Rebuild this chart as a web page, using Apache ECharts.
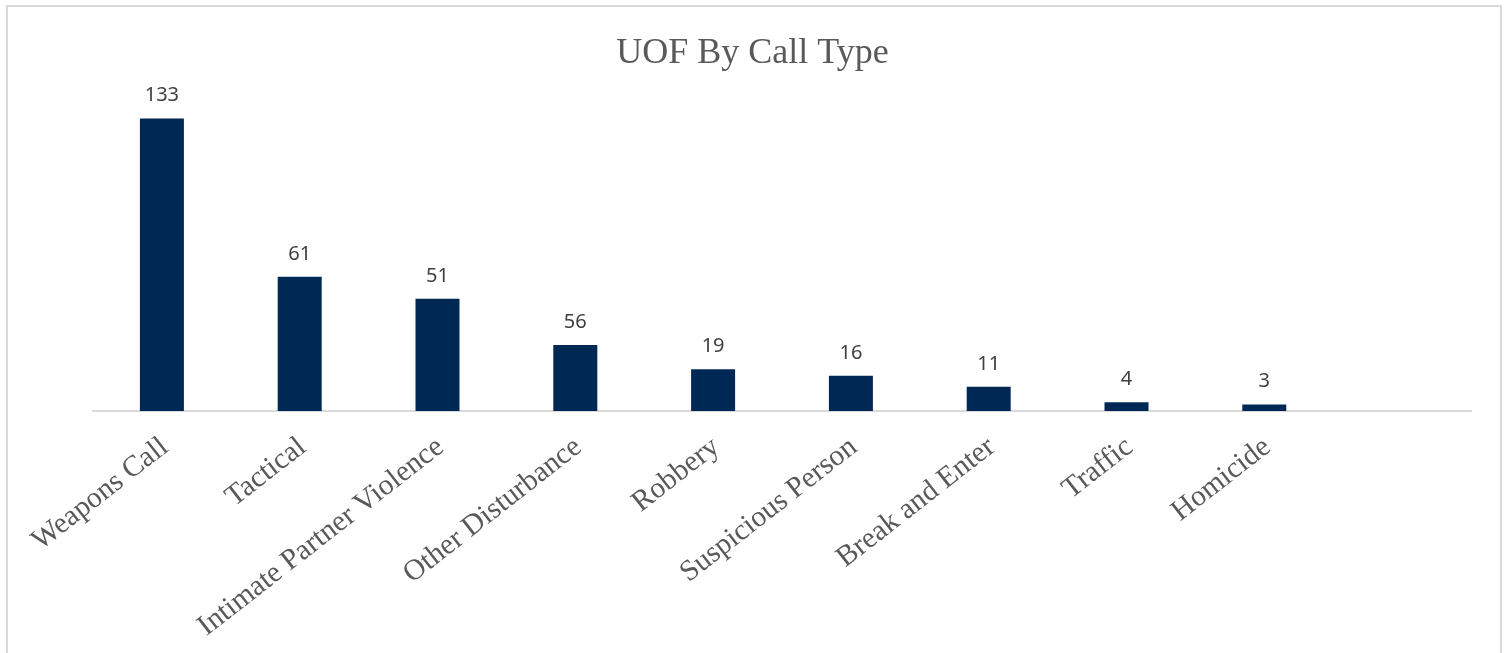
<!DOCTYPE html>
<html>
<head>
<meta charset="utf-8">
<script src="https://cdn.jsdelivr.net/npm/echarts@6/dist/echarts.min.js"></script>
<style>
  html, body { margin: 0; padding: 0; background: #fff; }
  #chart { position: absolute; left: 0; top: 0; width: 1505px; height: 653px; }
  .frame {
    position: absolute; left: 6px; top: 5px; width: 1492px; height: 700px;
    border: 2px solid #d9d9d9; pointer-events: none;
  }
</style>
</head>
<body>
<div id="chart"></div>
<div class="frame"></div>
<script>
// categories (last slot is empty in the original)
const categories = [
  'Weapons Call', 'Tactical', 'Intimate Partner Violence', 'Other Disturbance',
  'Robbery', 'Suspicious Person', 'Break and Enter', 'Traffic', 'Homicide', ''
]
// bar heights as drawn
const barValues = [133, 61, 51, 30, 19, 16, 11, 4, 3, null]
// data labels as printed above the bars
const dataLabels = ['133', '61', '51', '56', '19', '16', '11', '4', '3', '']

const chart = echarts.init(document.getElementById('chart'))

const option = {
  animation: false,
  title: {
    text: 'UOF By Call Type',
    left: 'center',
    top: 31,
    textStyle: {
      fontFamily: 'Liberation Serif',
      fontSize: 36,
      fontWeight: 'normal',
      color: '#595959',
    },
  },
  grid: {
    left: 93,
    right: 34,
    top: 103,
    bottom: 242,
  },
  xAxis: {
    type: 'category',
    data: categories,
    axisTick: { show: false },
    axisLine: { lineStyle: { color: '#d9d9d9', width: 2 } },
    axisLabel: {
      interval: 0,
      rotate: 38,
      margin: 16,
      padding: [0, 8, 0, 0],
      verticalAlign: 'top',
      align: 'right',
      fontFamily: 'Liberation Serif',
      fontSize: 29.5,
      color: '#595959',
    },
  },
  yAxis: {
    type: 'value',
    min: 0,
    max: 140,
    show: false,
    splitLine: { show: false },
  },
  series: [
    {
      type: 'bar',
      data: barValues,
      barWidth: 44,
      itemStyle: { color: '#002855' },
      label: {
        show: true,
        position: 'top',
        distance: 13,
        fontFamily: 'Noto Sans',
        fontSize: 20,
        color: '#404040',
        formatter: (p) => dataLabels[p.dataIndex],
      },
    },
  ],
}

chart.setOption(option)
</script>
</body>
</html>
